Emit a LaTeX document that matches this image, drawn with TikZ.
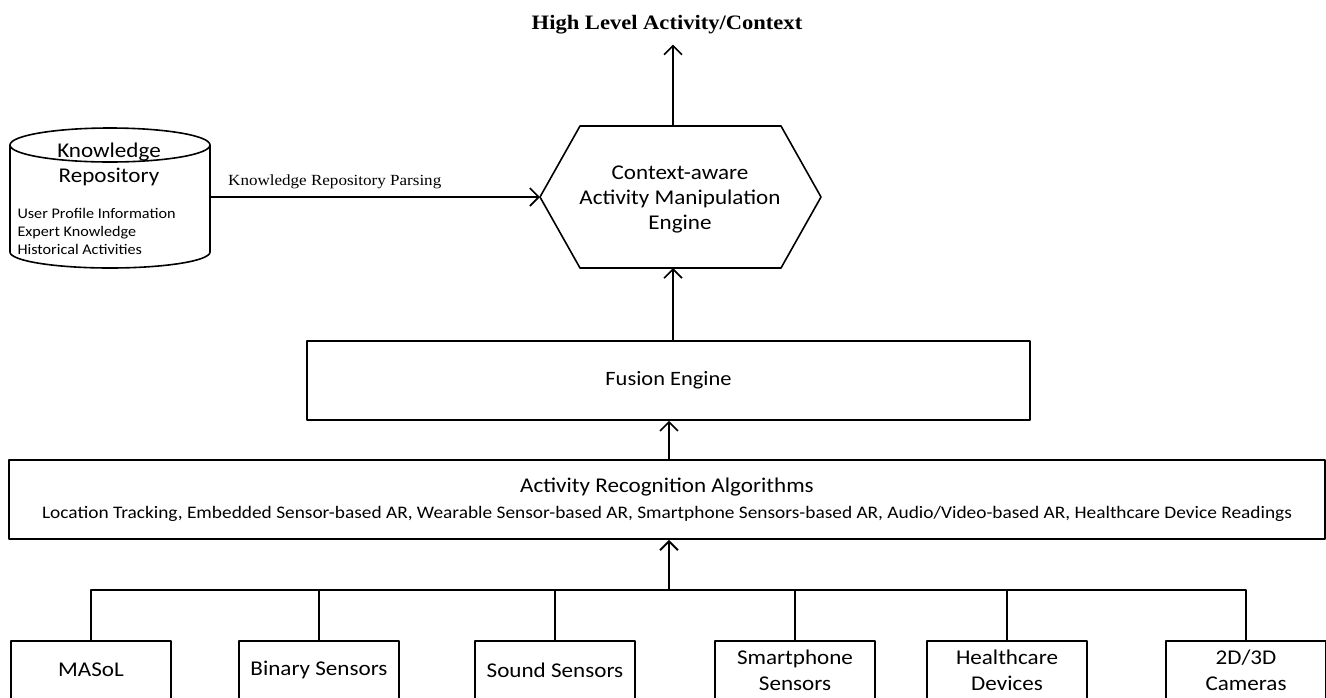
\documentclass[tikz,border=0pt]{standalone}
\usepackage{fontspec}
\setmainfont{Carlito}[FakeStretch=1.1]
\newfontfamily\serifx{Liberation Serif}[FakeStretch=1.1]
\usetikzlibrary{arrows.meta}
\begin{document}
\begin{tikzpicture}[x=1pt,y=-1pt,
  line join=round,
  box/.style={draw, line width=1.6pt, rectangle, inner sep=0pt, align=center},
  sensor/.style={box, minimum width=160pt, minimum height=58pt, anchor=north,
    font=\fontsize{21}{26}\selectfont},
  arr/.style={line width=1.6pt, -{Straight Barb[length=9pt,width=18pt,line width=1.6pt]}},
  bigarr/.style={line width=2.6pt, -{Straight Barb[length=9pt,width=18pt,line width=2pt]}},
  feed/.style={line width=1.5pt},
  feedin/.style={line width=2.4pt}]
\useasboundingbox (0,0) rectangle (1326,697);
\clip (0,0) rectangle (1326,697);

% output label
\node[font=\serifx\bfseries\fontsize{20.5}{24}\selectfont, inner sep=0pt] (title) at (667,25) {High Level Activity/Context};

% context-aware engine (hexagon)
\draw[line width=1.6pt] (540,197) -- (580,126) -- (781,126) -- (821,197) -- (781,268) -- (580,268) -- cycle;
\coordinate (hexL) at (540,197);
\coordinate (hexT) at (673,126);
\coordinate (hexB) at (673,268);
\node[align=center, font=\fontsize{21}{25}\selectfont] (engine) at (680,199)
  {Context-aware\\Activity Manipulation\\Engine};

% knowledge repository (cylinder)
\draw[line width=1.6pt] (10,145) -- (10,252) arc[start angle=180, end angle=360, x radius=100pt, y radius=16pt] -- (210,145);
\draw[line width=1.6pt] (110,145) ellipse [x radius=100pt, y radius=17pt];
\node[font=\fontsize{21}{25}\selectfont, align=center] (kr) at (109,164) {Knowledge\\Repository};
\node[font=\fontsize{14.7}{18}\selectfont, align=left, anchor=west] (krlist) at (14,231)
  {User Profile Information\\Expert Knowledge\\Historical Activities};
\coordinate (krR) at (210,197);

% fusion engine and recognition algorithms
\node[box, minimum width=723pt, minimum height=79pt, font=\fontsize{20.4}{24}\selectfont] (fusion) at (668.5,380.5) {Fusion Engine};
\node[box, minimum width=1316pt, minimum height=79pt] (ar) at (667,499.5)
  {\fontsize{21}{24}\selectfont Activity Recognition Algorithms\\[9pt]
   \fontsize{17.6}{20}\selectfont Location Tracking, Embedded Sensor-based AR, Wearable Sensor-based AR, Smartphone Sensors-based AR, Audio/Video-based AR, Healthcare Device Readings};

% sensing sources
\node[sensor] (s1) at (91,640) {MASoL};
\node[sensor] (s2) at (319,640) {Binary Sensors};
\node[sensor] (s3) at (555,640) {Sound Sensors};
\node[sensor] (s4) at (795,640) {Smartphone\\Sensors};
\node[sensor] (s5) at (1007,640) {Healthcare\\Devices};
\node[sensor] (s6) at (1246,640) {2D/3D\\Cameras};
\coordinate (bus) at (669,590);

% connectors
\draw[feed] (s1.north) |- (bus);
\draw[feed] (s6.north) |- (bus);
\draw[feedin] (s2.north) |- (bus);
\draw[feedin] (s5.north) |- (bus);
\draw[feed] (s3.north) |- (bus);
\draw[feed] (s4.north) |- (bus);
\draw[bigarr] (bus) -- (bus |- ar.south);
\draw[arr] (ar.north -| bus) -- (fusion.south -| bus);
\draw[arr] (fusion.north -| hexB) -- (hexB);
\draw[arr] (hexT) -- ([yshift=-10pt]hexT |- title.south);
\node[font=\serifx\fontsize{15.5}{18}\selectfont, inner sep=0pt, anchor=west] (parse) at (228,182) {Knowledge Repository Parsing};
\draw[arr] (krR) -- (hexL);
\end{tikzpicture}
\end{document}
